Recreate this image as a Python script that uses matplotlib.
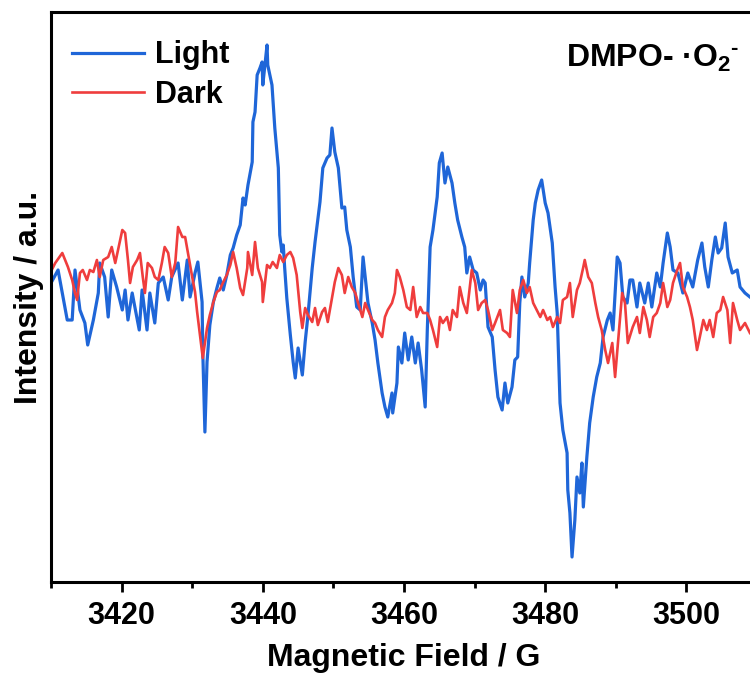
import matplotlib
matplotlib.use("Agg")
import matplotlib.pyplot as plt

plt.rcParams['font.family'] = ['Liberation Sans', 'DejaVu Sans']
plt.rcParams['font.weight'] = 'bold'
plt.rcParams['mathtext.fontset'] = 'custom'
plt.rcParams['mathtext.rm'] = 'Liberation Sans:bold'
plt.rcParams['mathtext.it'] = 'Liberation Sans:bold'
plt.rcParams['mathtext.bf'] = 'Liberation Sans:bold'

# ---- data ----
light_field = [
    3410.0, 3411.0, 3412.3, 3413.0, 3413.4, 3414.1, 3414.8, 3415.2, 3416.0, 3416.7,
    3416.9, 3417.6, 3418.1, 3418.6, 3419.3, 3420.1, 3420.5, 3420.9, 3421.5, 3422.5,
    3422.9, 3423.6, 3424.0, 3424.7, 3425.2, 3425.9, 3426.6, 3427.1, 3428.0, 3428.6,
    3429.3, 3429.7, 3430.4, 3430.8, 3431.4, 3431.5, 3431.8, 3432.1, 3432.5, 3433.0,
    3433.5, 3433.9, 3434.4, 3434.9, 3435.4, 3435.8, 3436.3, 3436.8, 3437.2, 3437.5,
    3437.9, 3438.5, 3438.6, 3438.9, 3439.2, 3439.6, 3439.9, 3440.0, 3440.3, 3440.6,
    3440.7, 3441.3, 3441.7, 3442.2, 3442.4, 3442.7, 3442.9, 3443.1, 3443.4, 3443.9,
    3444.3, 3444.6, 3445.0, 3445.6, 3446.0, 3446.4, 3447.0, 3447.4, 3448.1, 3448.5,
    3449.1, 3449.5, 3449.8, 3450.2, 3450.7, 3451.2, 3451.6, 3451.9, 3452.4, 3452.8,
    3453.3, 3453.8, 3454.2, 3454.5, 3454.9, 3455.5, 3455.9, 3456.3, 3456.9, 3457.3,
    3457.7, 3458.3, 3458.4, 3459.0, 3459.2, 3459.7, 3460.1, 3460.6, 3461.1, 3461.6,
    3462.0, 3462.5, 3463.0, 3463.3, 3463.7, 3464.1, 3464.7, 3465.0, 3465.4, 3465.8,
    3466.2, 3466.8, 3467.2, 3467.6, 3468.2, 3468.6, 3468.9, 3469.3, 3469.8, 3470.3,
    3470.8, 3471.2, 3471.5, 3471.9, 3472.5, 3472.9, 3473.3, 3473.9, 3474.3, 3474.7,
    3475.3, 3475.7, 3476.1, 3476.4, 3476.7, 3477.1, 3477.6, 3477.8, 3478.3, 3478.6,
    3479.0, 3479.5, 3480.0, 3480.4, 3481.0, 3481.4, 3481.7, 3482.1, 3482.5, 3483.1,
    3483.2, 3483.5, 3483.8, 3484.2, 3484.5, 3484.9, 3485.2, 3485.4, 3485.9, 3486.3,
    3486.8, 3487.3, 3487.8, 3488.2, 3488.8, 3489.2, 3489.6, 3490.2, 3490.6, 3491.0,
    3491.6, 3492.0, 3492.4, 3493.0, 3493.4, 3494.1, 3494.6, 3495.1, 3495.8, 3496.3,
    3496.7, 3497.3, 3497.7, 3498.1, 3498.8, 3499.5, 3500.2, 3500.9, 3501.6, 3502.2,
    3502.6, 3503.1, 3503.6, 3504.1, 3504.5, 3505.0, 3505.5, 3505.9, 3506.5, 3507.2,
    3507.6, 3508.3, 3509.0,
]
light_intensity = [
    17, 30, -20, -20, 30, -10, -23, -45, -20, 7,
    37, 23, -17, 30, 13, -10, 10, -20, 7, -30,
    10, -30, 7, -23, 17, 23, 0, 23, 37, 0,
    40, 3, 27, 38, -2, -52, -132, -62, -25, -2,
    12, 22, 10, 25, 45, 52, 65, 75, 102, 95,
    115, 138, 178, 188, 225, 232, 238, 215, 235, 255,
    235, 215, 172, 132, 65, 48, 55, 32, 2, -35,
    -62, -78, -48, -75, -42, -15, 32, 58, 98, 132,
    142, 145, 172, 148, 132, 92, 93, 70, 53, 23,
    -7, -10, 43, 23, -3, -23, -40, -63, -93, -107,
    -117, -93, -113, -83, -47, -63, -33, -60, -37, -63,
    -43, -70, -107, -30, 53, 70, 103, 137, 147, 117,
    133, 117, 97, 80, 63, 53, 27, 43, 30, 27,
    10, 20, 17, -27, -37, -70, -97, -110, -83, -103,
    -87, -60, -57, -3, 23, 3, 17, 37, 80, 97,
    110, 120, 97, 87, 57, 13, -13, -103, -130, -153,
    -190, -213, -257, -220, -177, -193, -163, -207, -157, -123,
    -97, -77, -63, -37, -20, -13, -30, 43, 37, 3,
    -3, 20, 20, -7, 17, -3, 17, -7, 27, 13,
    37, 67, 53, 30, 27, 7, 27, 13, 40, 57,
    33, 13, 40, 63, 47, 52, 77, 43, 27, 30,
    13, 7, 3,
]

dark_field = [
    3410.1, 3410.6, 3411.6, 3412.0, 3412.4, 3413.0, 3413.4, 3413.7, 3414.1, 3414.5,
    3415.1, 3415.5, 3416.0, 3416.5, 3416.9, 3417.4, 3418.1, 3418.6, 3419.1, 3419.5,
    3420.1, 3420.5, 3420.9, 3421.2, 3421.6, 3422.2, 3422.6, 3423.0, 3423.3, 3423.7,
    3424.3, 3424.7, 3425.2, 3425.7, 3426.1, 3426.6, 3427.1, 3427.6, 3428.0, 3428.6,
    3429.0, 3429.4, 3430.0, 3430.4, 3430.7, 3431.1, 3431.5, 3432.1, 3432.5, 3433.0,
    3433.5, 3433.9, 3434.4, 3434.9, 3435.4, 3435.8, 3436.3, 3436.8, 3437.2, 3437.8,
    3437.9, 3438.5, 3438.9, 3439.3, 3439.9, 3440.0, 3440.6, 3441.0, 3441.4, 3442.0,
    3442.4, 3442.9, 3443.4, 3443.9, 3444.3, 3444.8, 3445.3, 3445.6, 3446.0, 3446.4,
    3447.0, 3447.4, 3447.8, 3448.4, 3448.8, 3449.2, 3449.8, 3450.2, 3450.7, 3451.2,
    3451.6, 3452.1, 3452.6, 3453.1, 3453.5, 3454.1, 3454.5, 3454.9, 3455.5, 3455.9,
    3456.3, 3456.9, 3457.3, 3457.7, 3458.3, 3458.7, 3459.0, 3459.4, 3459.9, 3460.4,
    3460.9, 3461.3, 3461.8, 3462.3, 3462.7, 3463.3, 3463.7, 3464.1, 3464.7, 3465.1,
    3465.5, 3466.1, 3466.5, 3466.9, 3467.5, 3467.9, 3468.4, 3468.9, 3469.6, 3470.1,
    3470.5, 3471.0, 3471.5, 3471.9, 3472.5, 3472.9, 3473.6, 3474.0, 3474.6, 3475.0,
    3475.4, 3476.0, 3476.4, 3476.9, 3477.4, 3477.8, 3478.3, 3478.8, 3479.3, 3479.7,
    3480.3, 3480.7, 3481.1, 3481.7, 3482.1, 3482.5, 3483.1, 3483.5, 3483.9, 3484.5,
    3484.9, 3485.4, 3485.6, 3486.1, 3486.6, 3487.1, 3487.5, 3488.0, 3488.5, 3488.9,
    3489.5, 3489.9, 3490.3, 3490.9, 3491.3, 3491.7, 3492.4, 3493.0, 3493.4, 3493.9,
    3494.4, 3494.8, 3495.3, 3495.8, 3496.3, 3496.7, 3497.3, 3497.7, 3498.1, 3498.7,
    3499.1, 3499.5, 3500.1, 3500.5, 3500.9, 3501.5, 3501.9, 3502.4, 3502.9, 3503.3,
    3503.8, 3504.3, 3504.8, 3505.2, 3505.8, 3506.2, 3506.6, 3507.2, 3507.6, 3508.3,
    3509.0,
]
dark_intensity = [
    30, 37, 47, 40, 33, 20, 7, 0, 27, 30,
    20, 30, 28, 40, 23, 40, 43, 53, 37, 50,
    70, 67, 40, 17, 33, 40, 47, 23, 7, 37,
    32, 23, 20, 37, 53, 47, 23, 37, 73, 63,
    63, 47, 23, 8, -12, -35, -58, -28, -15, -2,
    8, 10, 18, 25, 35, 48, 32, 12, 5, 32,
    48, 25, 58, 32, 18, -2, 35, 32, 38, 32,
    45, 38, 45, 48, 42, 25, -12, -28, -8, -15,
    -22, -8, -25, -12, -8, -22, 2, 18, 32, 25,
    7, 23, 13, 7, -3, -17, -3, -10, -20, -23,
    -30, -37, -17, -10, -3, 7, 30, 23, 10, -7,
    -10, 13, -17, -7, -13, -13, -20, -30, -47, -17,
    -23, -17, -30, -10, -17, 13, -3, -13, 30, 17,
    -10, -3, 0, -10, -30, -23, -10, -30, -33, -37,
    10, -13, 10, 20, 7, 13, -3, -10, -17, -10,
    -20, -17, -27, -17, -23, 0, 3, 17, -17, 10,
    17, 33, 40, 23, 17, -3, -17, -30, -50, -63,
    -43, -77, -43, 7, -3, -43, -27, -17, -33, -7,
    -20, -37, -17, -13, -3, 17, -7, 0, 17, 30,
    37, 13, 3, -7, -20, -50, -37, -20, -30, -20,
    -37, -13, -10, 3, -10, -43, -3, -20, -30, -23,
    -33,
]

x_ticks = [3420, 3440, 3460, 3480, 3500]
x_minor = [3410, 3430, 3450, 3470, 3490, 3510]
series_labels = ["Light", "Dark"]

# ---- figure ----
fig = plt.figure(figsize=(7.5, 6.8), dpi=100)
ax = fig.add_axes([51 / 750, 98 / 680, 706 / 750, 570 / 680])

ax.plot(light_field, light_intensity, color="#1F66D8", lw=2.3, label=series_labels[0])
ax.plot(dark_field, dark_intensity, color="#EF3D3D", lw=1.9, label=series_labels[1])

ax.set_xlim(3410, 3510)
ax.set_ylim(-282, 288)
ax.set_xticks(x_ticks)
ax.set_xticks(x_minor, minor=True)
ax.set_yticks([])

for s in ax.spines.values():
    s.set_linewidth(2.2)

ax.tick_params(axis="x", which="major", length=7, width=2.0, direction="out",
               labelsize=22, pad=7)
ax.tick_params(axis="x", which="minor", length=4, width=2.0, direction="out")
for lab in ax.get_xticklabels():
    lab.set_fontweight("bold")

ax.set_xlabel("Magnetic Field / G", fontsize=23, fontweight="bold", labelpad=8)
ax.set_ylabel("Intensity / a.u.", fontsize=23, fontweight="bold", labelpad=5)

leg = ax.legend(loc="upper left", bbox_to_anchor=(0.03, 0.95), frameon=False,
                handlelength=2.35, handletextpad=0.35,
                labelspacing=0.3, borderaxespad=0, borderpad=0,
                prop={"weight": "bold", "size": 22})

ax.text(0.975, 0.903, "DMPO- ·O$_{2}{}^{\\text{-}}$", transform=ax.transAxes,
        ha="right", va="baseline", fontsize=23, fontweight="bold")

fig.savefig("out.png", dpi=100)
